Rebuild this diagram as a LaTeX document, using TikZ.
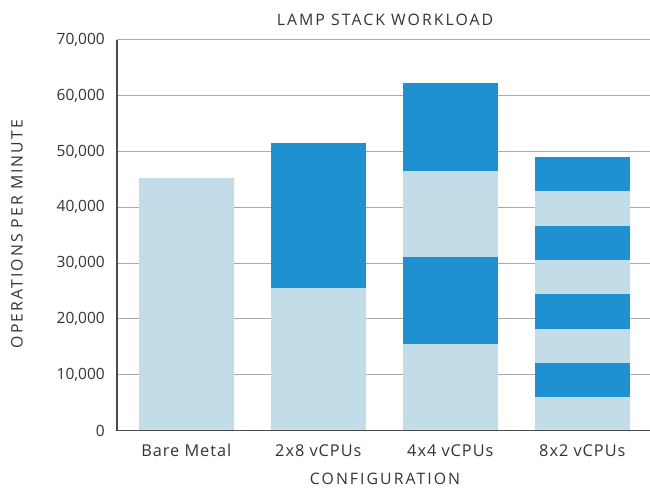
\documentclass[tikz,border=0pt]{standalone}
\usepackage{fontspec}
\setmainfont{Open Sans}
\newfontfamily\spacedfont[LetterSpace=13]{Open Sans}
\newfontfamily\labelfont[LetterSpace=6]{Open Sans}
\definecolor{lightbar}{HTML}{C2DDE8}
\definecolor{darkbar}{HTML}{1F91D0}
\definecolor{gridgray}{HTML}{A8ACAF}
\definecolor{axisgray}{HTML}{4A4A4A}
\definecolor{textgray}{HTML}{333333}
\tikzset{
    gridline/.style = {draw=gridgray, line width=1.1pt},
    axisline/.style = {draw=axisgray, line width=1.4pt},
    tick/.style = {text=textgray, font=\fontsize{15.5}{18}\selectfont, inner sep=0pt},
    lbl/.style = {text=textgray, font=\labelfont\fontsize{16.3}{18}\selectfont, inner sep=0pt},
    caps/.style = {text=textgray, font=\spacedfont\fontsize{15.8}{18}\selectfont, inner sep=0pt}
}
\begin{document}
\begin{tikzpicture}[x=1pt,y=1pt]
    \useasboundingbox (0,0) rectangle (650,487);
    \node[caps] (title) at (385,467) {LAMP STACK WORKLOAD};
    \node[caps, rotate=90] (ylabel) at (17,253) {OPERATIONS PER MINUTE};
    \node[caps] (xlabel) at (385,8) {CONFIGURATION};
    \begin{scope}[shift={(117,56.5)}, y=5.58pt]
        % grid and ticks
        \foreach \v/\t in {0/0,10/10{,}000,20/20{,}000,30/30{,}000,40/40{,}000,50/50{,}000,60/60{,}000,70/70{,}000} {
            \draw[gridline] (0,\v) -- (533,\v);
            \node[tick, anchor=east] (tick\v) at (-12,\v) {\t};
        }
        % bare metal
        \fill[lightbar] (21.5,0) rectangle (117.2,45.25);
        % 2x8
        \fill[lightbar] (153.5,0) rectangle (249.2,25.6);
        \fill[darkbar] (153.5,25.6) rectangle (249.2,51.45);
        % 4x4
        \fill[lightbar] (285.5,0) rectangle (381.2,15.45);
        \fill[darkbar] (285.5,15.45) rectangle (381.2,31.05);
        \fill[lightbar] (285.5,31.05) rectangle (381.2,46.55);
        \fill[darkbar] (285.5,46.55) rectangle (381.2,62.2);
        % 8x2
        \fill[lightbar] (417.5,0) rectangle (513.2,5.95);
        \fill[darkbar] (417.5,5.95) rectangle (513.2,12.1);
        \fill[lightbar] (417.5,12.1) rectangle (513.2,18.25);
        \fill[darkbar] (417.5,18.25) rectangle (513.2,24.45);
        \fill[lightbar] (417.5,24.45) rectangle (513.2,30.55);
        \fill[darkbar] (417.5,30.55) rectangle (513.2,36.7);
        \fill[lightbar] (417.5,36.7) rectangle (513.2,42.85);
        \fill[darkbar] (417.5,42.85) rectangle (513.2,49.1);
        % axes
        \draw[axisline] (0,70) -- (0,0) -- (533,0);
        \node[lbl] (bare) at (69.3,-3.6) {Bare Metal};
        \node[lbl] (twobyeight) at (201.3,-3.6) {2x8 vCPUs};
        \node[lbl] (fourbyfour) at (333.3,-3.6) {4x4 vCPUs};
        \node[lbl] (eightbytwo) at (465.3,-3.6) {8x2 vCPUs};
    \end{scope}
\end{tikzpicture}
\end{document}
